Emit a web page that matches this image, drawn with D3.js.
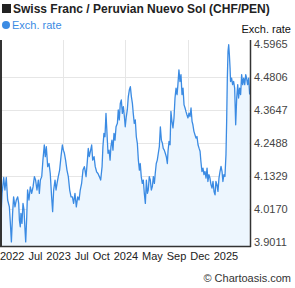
<!DOCTYPE html>
<html lang="en">
<head>
    <meta charset="UTF-8">
    <script src="https://cdn.jsdelivr.net/npm/d3@7"></script>
    <title>CHF/PEN</title>
    <style>
        body { margin: 0; background: #fff; }
        text { font-family: "Liberation Sans", Arial, sans-serif; }
    </style>
</head>
<body>
<script>
    // days since start of the 4 year window
    let days = [0, 6, 16, 23, 31, 39, 49, 55, 61, 68, 74, 82, 90, 98, 104, 108, 113, 117, 123, 129,
        135, 141, 145, 151, 156, 164, 172, 180, 188, 196, 203, 211, 219, 225, 231, 239, 246, 254, 260, 266,
        274, 282, 289, 297, 303, 309, 317, 323, 329, 336, 344, 352, 360, 366, 372, 379, 387, 395, 403, 411,
        419, 426, 434, 442, 450, 458, 465, 473, 481, 489,
        493, 499, 507, 512, 518, 526, 532, 538, 546, 553, 561, 569, 577, 585, 593, 598, 604, 610, 616, 620,
        624, 628, 634, 640, 645, 651, 657, 663, 669, 675, 683, 688, 694, 700, 706, 712, 718, 724, 729, 735,
        741, 747, 753, 759, 765, 771, 776, 782, 788, 794, 800, 806, 812, 817, 823, 829, 835, 841, 847, 853,
        859, 864, 870, 876, 882, 888, 894, 900, 905, 911, 917, 923, 929, 935, 941, 947, 952, 958, 964, 970, 976,
        980, 986, 992, 997, 1003, 1009, 1015, 1021, 1027, 1033, 1038, 1044, 1050, 1056, 1062, 1068, 1074, 1080,
        1085, 1091, 1097, 1103, 1109, 1115, 1121, 1126, 1132, 1138, 1144, 1150, 1156, 1162, 1168, 1173, 1179,
        1185, 1191, 1197, 1203, 1209, 1214, 1220, 1226, 1232, 1238, 1244, 1250, 1256, 1261, 1267, 1273, 1279,
        1285, 1291, 1297, 1302, 1308, 1314, 1320, 1324, 1328, 1332, 1336, 1340, 1344, 1347, 1353, 1359, 1365,
        1371, 1377, 1383, 1389, 1394, 1400, 1406, 1412, 1418, 1424, 1430, 1436, 1441, 1447, 1453, 1459];

    let rates = [3.991, 4.073, 4.129, 4.085, 4.129, 4.050, 4.026, 3.968, 3.903, 4.003, 4.061, 4.026, 4.050, 4.061, 4.038, 3.979, 3.956, 4.003, 3.968, 4.038,
        4.015, 3.944, 3.903, 3.991, 4.085, 4.050, 4.096, 4.073, 4.096, 4.132, 4.120, 4.085, 4.120, 4.073, 4.120, 4.132, 4.190, 4.243, 4.202, 4.237,
        4.167, 4.178, 4.143, 4.061, 4.009, 4.085, 4.120, 4.085, 4.108, 4.132, 4.155, 4.202, 4.243, 4.225, 4.214, 4.190, 4.155, 4.132, 4.085, 4.061,
        4.061, 4.038, 4.073, 4.026, 4.061, 4.050, 4.085, 4.108, 4.155, 4.167,
        4.155, 4.132, 4.190, 4.231, 4.202, 4.225, 4.243, 4.190, 4.202, 4.167, 4.149, 4.143, 4.132, 4.120, 4.167, 4.237, 4.284, 4.272, 4.354, 4.307,
        4.260, 4.214, 4.225, 4.190, 4.237, 4.260, 4.225, 4.284, 4.260, 4.307, 4.319, 4.366, 4.331, 4.389, 4.401, 4.354, 4.378, 4.342, 4.307, 4.342,
        4.366, 4.413, 4.436, 4.448, 4.413, 4.389, 4.354, 4.319, 4.331, 4.272, 4.249, 4.190, 4.155, 4.178, 4.132, 4.108, 4.120, 4.073, 4.038, 4.120,
        4.073, 4.085, 4.132, 4.120, 4.085, 4.097, 4.132, 4.108, 4.143, 4.178, 4.190, 4.214, 4.237, 4.307, 4.260, 4.249, 4.231, 4.225, 4.214, 4.202, 4.178,
        4.221, 4.256, 4.244, 4.361, 4.326, 4.303, 4.338, 4.408, 4.443, 4.420, 4.455, 4.507, 4.466, 4.490, 4.420, 4.443, 4.384, 4.373,
        4.361, 4.349, 4.338, 4.355, 4.343, 4.373, 4.326, 4.314, 4.291, 4.279, 4.267, 4.273, 4.244, 4.232, 4.221, 4.185, 4.150,
        4.162, 4.139, 4.150, 4.127, 4.162, 4.115, 4.139, 4.127, 4.104, 4.092, 4.115, 4.080, 4.068, 4.115, 4.104, 4.080, 4.127,
        4.150, 4.168, 4.150, 4.115, 4.139, 4.133, 4.209, 4.326, 4.478, 4.572, 4.595, 4.560, 4.513, 4.466, 4.478, 4.455, 4.466,
        4.443, 4.314, 4.408, 4.455, 4.408, 4.443, 4.420, 4.490, 4.455, 4.478, 4.455, 4.490, 4.478, 4.455, 4.478, 4.420];

    let yTicks = [3.9011, 4.0170, 4.1329, 4.2488, 4.3647, 4.4806, 4.5965];
    let xLabels = ["2022", "Jul", "2023", "Jul", "Oct", "2024", "May", "Sep", "Dec", "2025"];
    let xGridDays = [365, 730, 1096];

    let data = days.map((d, i) => ({day: d, rate: rates[i]}));

    let width = 295, height = 288;
    let plotLeft = 1, plotRight = 250, plotTop = 40, plotBottom = 246;

    let svg = d3.select("body")
        .append("svg")
        .attr("width", width)
        .attr("height", height);

    let xScale = d3.scaleLinear()
        .domain([0, 1461])
        .range([plotLeft, plotRight]);

    let yScale = d3.scaleLinear()
        .domain([3.8885, 4.6116])
        .range([plotBottom, plotTop]);

    // grid
    svg.append("g")
        .selectAll("line")
        .data(yTicks.slice(1, -1))
        .enter()
        .append("line")
        .attr("x1", plotLeft)
        .attr("x2", plotRight)
        .attr("y1", d => Math.round(yScale(d)) + 0.5)
        .attr("y2", d => Math.round(yScale(d)) + 0.5)
        .attr("stroke", "#e6e6e6");

    svg.append("g")
        .selectAll("line")
        .data(xGridDays)
        .enter()
        .append("line")
        .attr("x1", d => Math.round(xScale(d)) + 0.5)
        .attr("x2", d => Math.round(xScale(d)) + 0.5)
        .attr("y1", plotTop)
        .attr("y2", plotBottom)
        .attr("stroke", "#e6e6e6");

    // area + line
    let area = d3.area()
        .x(d => xScale(d.day))
        .y0(plotBottom)
        .y1(d => yScale(d.rate));

    let line = d3.line()
        .x(d => xScale(d.day))
        .y(d => yScale(d.rate));

    svg.append("path")
        .datum(data)
        .attr("d", area)
        .attr("fill", "#edf6fe");

    svg.append("path")
        .datum(data)
        .attr("d", line)
        .attr("fill", "none")
        .attr("stroke", "#3b8be3")
        .attr("stroke-width", 1.3)
        .attr("stroke-linejoin", "round");

    // axes
    let yAxis = d3.axisRight(yScale)
        .tickValues(yTicks)
        .tickSize(0)
        .tickPadding(4)
        .tickFormat(d3.format(".4f"));

    let gy = svg.append("g")
        .attr("transform", `translate(${plotRight}, 0)`)
        .call(yAxis);
    gy.select(".domain").remove();
    gy.selectAll("text")
        .attr("font-size", 11)
        .attr("font-family", "Liberation Sans, Arial, sans-serif")
        .attr("fill", "#444");

    svg.append("line")
        .attr("x1", plotLeft).attr("x2", plotLeft)
        .attr("y1", plotTop).attr("y2", plotBottom)
        .attr("stroke", "#333").attr("stroke-width", 2);
    svg.append("line")
        .attr("x1", plotRight + 0.5).attr("x2", plotRight + 0.5)
        .attr("y1", plotTop).attr("y2", plotBottom + 1)
        .attr("stroke", "#333").attr("stroke-width", 1.5);
    svg.append("line")
        .attr("x1", 0).attr("x2", plotRight + 1)
        .attr("y1", plotBottom + 0.5).attr("y2", plotBottom + 0.5)
        .attr("stroke", "#333").attr("stroke-width", 1.5);

    // x labels, packed one after another
    let xg = svg.append("g");
    let cursor = 0;
    xLabels.forEach(t => {
        let el = xg.append("text")
            .attr("x", cursor)
            .attr("y", 260)
            .attr("font-size", 11)
            .attr("fill", "#222")
            .text(t);
        cursor += el.node().getComputedTextLength() + 3.9;
    });

    // title + legend
    svg.append("rect")
        .attr("x", 2).attr("y", 4)
        .attr("width", 9).attr("height", 9)
        .attr("fill", "#222");
    svg.append("text")
        .attr("x", 13).attr("y", 13)
        .attr("font-size", 12)
        .attr("font-weight", "bold")
        .attr("fill", "#222")
        .text("Swiss Franc / Peruvian Nuevo Sol (CHF/PEN)");

    svg.append("circle")
        .attr("cx", 6).attr("cy", 25)
        .attr("r", 4)
        .attr("fill", "#3b8be3");
    svg.append("text")
        .attr("x", 12).attr("y", 29)
        .attr("font-size", 11)
        .attr("fill", "#3b8be3")
        .text("Exch. rate");

    svg.append("text")
        .attr("x", 291).attr("y", 33)
        .attr("text-anchor", "end")
        .attr("font-size", 11)
        .attr("fill", "#111")
        .text("Exch. rate");

    svg.append("text")
        .attr("x", 291).attr("y", 282)
        .attr("text-anchor", "end")
        .attr("font-size", 11)
        .attr("fill", "#333")
        .text("© Chartoasis.com");
</script>
</body>
</html>
